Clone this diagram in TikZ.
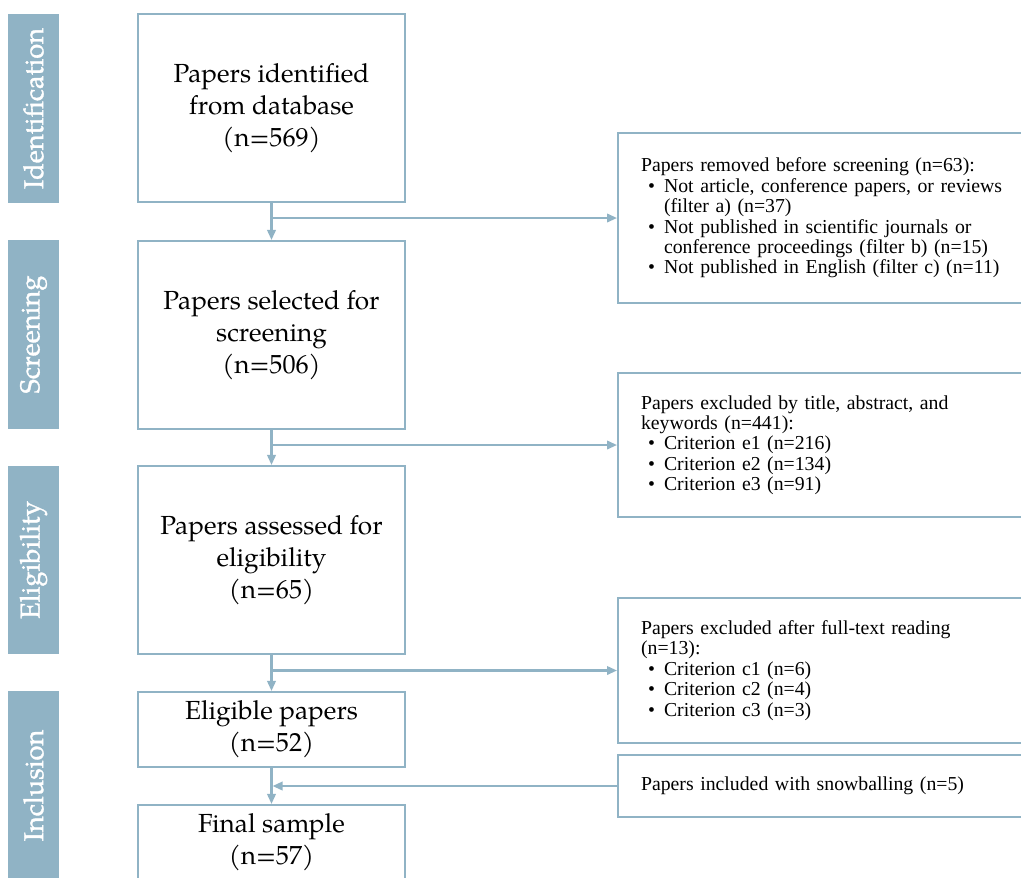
\documentclass[tikz,border=0pt]{standalone}
\usepackage{fontspec}
\setmainfont{TeX Gyre Pagella}
\newfontfamily\wordfont{Liberation Serif}
\newfontfamily\phasefont[FakeBold=1.2]{TeX Gyre Pagella}
\usetikzlibrary{arrows.meta}
\definecolor{flowblue}{RGB}{144,179,197}
\newcommand\bitem[1]{\makebox[0.46cm][l]{\hspace{0.14cm}\textbullet}#1}
\newcommand\bcont[1]{\hspace*{0.46cm}#1}
\begin{document}
\begin{tikzpicture}[x=0.02cm,y=-0.02cm,
  phase/.style={fill=flowblue,text=white,rotate=90,inner sep=0pt,
    minimum width=3.78cm,minimum height=1.02cm,font=\phasefont\fontsize{15.5}{18}\selectfont},
  stage/.style={draw=flowblue,line width=1.2pt,align=center,inner sep=0pt,
    minimum width=5.34cm,minimum height=3.76cm,font=\fontsize{14.9}{18.2}\selectfont},
  note/.style={draw=flowblue,line width=1.2pt,align=left,inner ysep=0pt,inner xsep=0.46cm,
    anchor=west,text width=9cm,font=\wordfont\fontsize{11.25}{11.6}\selectfont},
  flow/.style={draw=flowblue,line width=1.2pt,-{Triangle[length=0.2cm,width=0.17cm]}}]
\path[use as bounding box,clip] (0,0) rectangle (1021,877);
\node [phase] (p1) at (33.5,108.5) {Identification};
\node [phase] (p2) at (33.5,334.5) {Screening};
\node [phase] (p3) at (33.5,560) {Eligibility};
\node [phase] (p4) at (33.5,785.5) {Inclusion};
\node [stage] (id) at (271.5,108) {Papers identified\\from database\\(n=569)};
\node [stage] (scr) at (271.5,335) {Papers selected for\\screening\\(n=506)};
\node [stage] (elig) at (271.5,560) {Papers assessed for\\eligibility\\(n=65)};
\node [stage,minimum height=1.5cm] (ok) at (271.5,729.5) {Eligible papers\\(n=52)};
\node [stage,minimum height=1.5cm] (fin) at (271.5,842.5) {Final sample\\(n=57)};
\node [note,minimum height=3.4cm] (r1) at (617,218) {Papers removed before screening (n=63):\\
  \bitem{Not article, conference papers, or reviews}\\
  \bcont{(filter a) (n=37)}\\
  \bitem{Not published in scientific journals or}\\
  \bcont{conference proceedings (filter b) (n=15)}\\
  \bitem{Not published in English (filter c) (n=11)}};
\node [note,minimum height=2.88cm] (r2) at (617,445) {Papers excluded by title, abstract, and\\
  keywords (n=441):\\
  \bitem{Criterion e1 (n=216)}\\
  \bitem{Criterion e2 (n=134)}\\
  \bitem{Criterion e3 (n=91)}};
\node [note,minimum height=2.9cm] (r3) at (617,670.5) {Papers excluded after full-text reading\\
  (n=13):\\
  \bitem{Criterion c1 (n=6)}\\
  \bitem{Criterion c2 (n=4)}\\
  \bitem{Criterion c3 (n=3)}};
\node [note,minimum height=1.24cm] (r4) at (617,786) {Papers included with snowballing (n=5)};
\draw [flow] (id) -- (scr);
\draw [flow] (scr) -- (elig);
\draw [flow] (elig) -- (ok);
\draw [flow] (ok) -- (fin);
\draw [flow] (r1.west -| id.south) -- (r1.west);
\draw [flow] (r2.west -| scr.south) -- (r2.west);
\draw [flow] (r3.west -| elig.south) -- (r3.west);
\draw [flow,shorten >=0.6pt] (r4.west) -- (r4.west -| ok.south);
\end{tikzpicture}
\end{document}
